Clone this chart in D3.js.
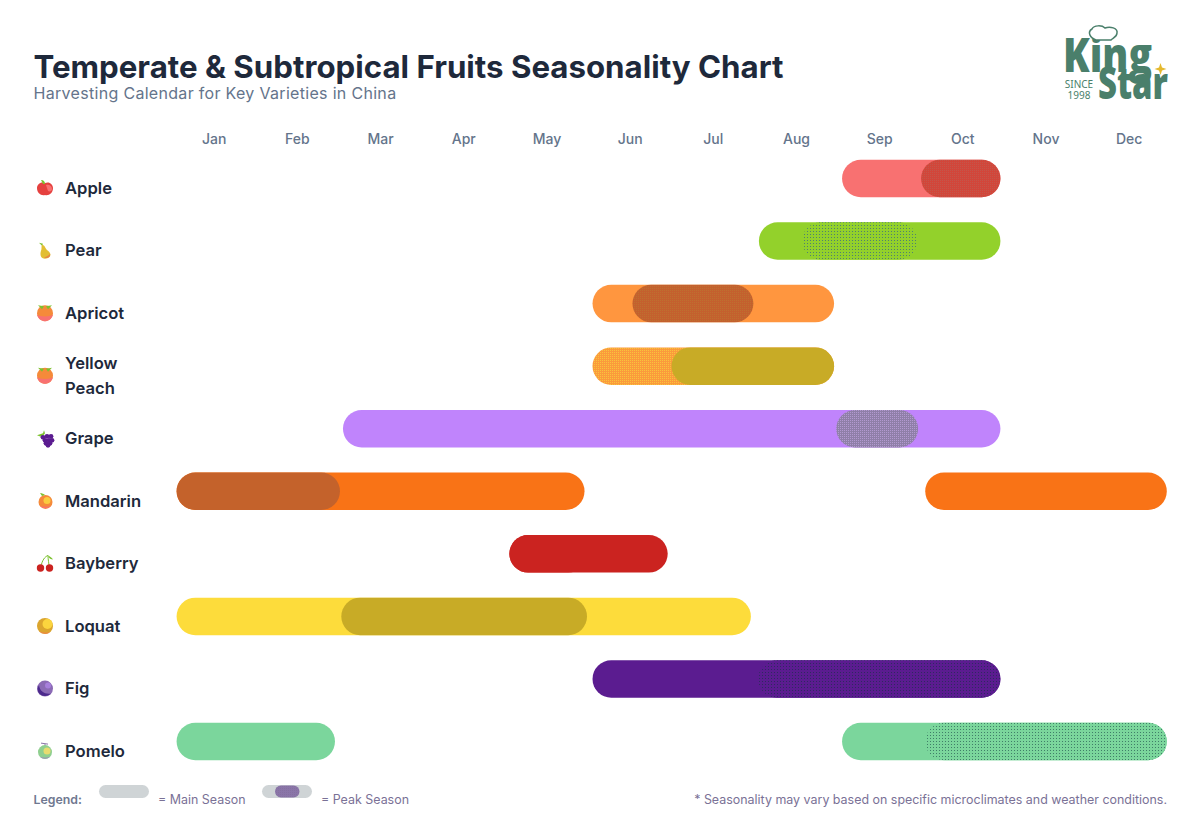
<!DOCTYPE html>
<html>
<head>
<meta charset="utf-8">
<title>Temperate & Subtropical Fruits Seasonality Chart</title>
<script src="https://cdn.jsdelivr.net/npm/d3@7"></script>
<style>
  html, body { margin: 0; padding: 0; background: #fff; }
  svg { display: block; font-family: Inter, "Noto Sans", sans-serif; }
</style>
</head>
<body>
<svg id="chart" width="1200" height="833"></svg>
<script>
const months = ["Jan","Feb","Mar","Apr","May","Jun","Jul","Aug","Sep","Oct","Nov","Dec"];
const fruits = ["Apple","Pear","Apricot","Yellow Peach","Grape","Mandarin","Bayberry","Loquat","Fig","Pomelo"];

// month units, 0 = start of Jan, 12 = end of Dec
const mainSeasons = [
  [[8, 10]],
  [[7, 10]],
  [[5, 8]],
  [[5, 8]],
  [[2, 10]],
  [[0, 5], [9, 12]],
  [[4, 6]],
  [[0, 7]],
  [[5, 10]],
  [[0, 2], [8, 12]]
];
const peakSeasons = [
  [[8.95, 10]],
  [[7.52, 9]],
  [[5.48, 7.03]],
  [[5.95, 8]],
  [[7.93, 9.01]],
  [[0, 2.06]],
  [[4, 5.03]],
  [[1.98, 5.03]],
  [[6.99, 10]],
  [[9, 12]]
];

const mainColors = ["#F87171","#93D12B","#FF963F","url(#mainPeach)","#C084FC","#F97316","#CB2320","#FDDC3B","#5B1C90","#7BD69C"];
// base, dot colour and dot spacing of the dithered peak fill
const peakStyles = [
  ["#D2463A", "#C4564A", 2],
  ["#93D12B", "#4F8070", 3],
  ["#C4602E", "#BE7030", 2],
  ["#C8AB26", "#C8AB26", 2],
  ["#8F7FA8", "#B29AD0", 2],
  ["#C4622B", "#C4622B", 2],
  ["#CB2320", "#CB2320", 2],
  ["#C8AB26", "#C8AB26", 2],
  ["#5B1C90", "#2E2A60", 3],
  ["#7BD69C", "#3F7F68", 3]
];

const svg = d3.select("#chart");
const defs = svg.append("defs");

peakStyles.forEach((s, i) => {
  const p = defs.append("pattern")
    .attr("id", "peak" + i)
    .attr("patternUnits", "userSpaceOnUse")
    .attr("width", s[2]).attr("height", s[2]);
  p.append("rect").attr("width", s[2]).attr("height", s[2]).attr("fill", s[0]);
  p.append("rect").attr("width", 1).attr("height", 1).attr("fill", s[1]);
});
// yellow peach main season is yellow and orange dots
const pm = defs.append("pattern").attr("id", "mainPeach")
  .attr("patternUnits", "userSpaceOnUse").attr("width", 2).attr("height", 2);
pm.append("rect").attr("width", 2).attr("height", 2).attr("fill", "#FB9A3C");
pm.append("rect").attr("width", 1).attr("height", 1).attr("fill", "#F8C43C");
const pl = defs.append("pattern").attr("id", "legendPeak")
  .attr("patternUnits", "userSpaceOnUse").attr("width", 2).attr("height", 2);
pl.append("rect").attr("width", 2).attr("height", 2).attr("fill", "#8A75A8");
pl.append("rect").attr("width", 1).attr("height", 1).attr("fill", "#8570A0");

// Scales
const xBand = d3.scaleBand().domain(months).range([172.6, 1170.8]);
const x = d3.scaleLinear().domain([0, 12]).range([172.6, 1170.8]);
const y = d3.scaleBand().domain(fruits).range([147.2, 772.8]).paddingInner(0.4).paddingOuter(0.2);

const barInset = 4;
const barH = 37.5;
const rowY = f => y(f) + y.bandwidth() / 2 - barH / 2;

// Title
svg.append("text").attr("x", 33.5).attr("y", 78)
  .attr("font-size", 31.25).attr("font-weight", 700).attr("fill", "#1E293B")
  .text("Temperate & Subtropical Fruits Seasonality Chart");
svg.append("text").attr("x", 33.5).attr("y", 98.5)
  .attr("font-size", 16).attr("fill", "#64748B").attr("letter-spacing", 0.31)
  .text("Harvesting Calendar for Key Varieties in China");

// Month axis
const axis = svg.append("g").attr("transform", "translate(0,144)")
  .call(d3.axisTop(xBand).tickSize(0).tickPadding(0));
axis.select(".domain").remove();
axis.selectAll("text")
  .attr("font-family", "Inter").attr("font-size", 14).attr("font-weight", 500)
  .attr("fill", "#64748B");

// Bars
const rows = svg.selectAll(".row").data(fruits).enter().append("g").attr("class", "row");

rows.each(function (f, i) {
  const row = d3.select(this);
  row.selectAll(".main").data(mainSeasons[i]).enter().append("rect")
    .attr("class", "main")
    .attr("x", d => x(d[0]) + barInset)
    .attr("width", d => x(d[1]) - x(d[0]) - barInset * 2)
    .attr("y", rowY(f)).attr("height", barH)
    .attr("rx", barH / 2)
    .attr("fill", mainColors[i]);
  row.selectAll(".peak").data(peakSeasons[i]).enter().append("rect")
    .attr("class", "peak")
    .attr("x", d => x(d[0]) + barInset)
    .attr("width", d => x(d[1]) - x(d[0]) - barInset * 2)
    .attr("y", rowY(f)).attr("height", barH)
    .attr("rx", barH / 2)
    .attr("fill", `url(#peak${i})`);
});

// Row labels
const labelShift = 9.6;
rows.each(function (f) {
  const cy = y(f) + y.bandwidth() / 2 + labelShift;
  const t = d3.select(this).append("text")
    .attr("x", 65).attr("font-size", 16.6).attr("font-weight", 600).attr("fill", "#1E293B");
  if (f === "Yellow Peach") {
    t.append("tspan").attr("x", 65).attr("y", cy - 12.5).attr("dy", "0.35em").text("Yellow");
    t.append("tspan").attr("x", 65).attr("y", cy + 12.5).attr("dy", "0.35em").text("Peach");
  } else {
    t.attr("y", cy).attr("dy", "0.35em").text(f);
  }
});

// Small hand drawn fruit icons, centred on 0,0 in a 16px box
const icons = {
  Apple(g) {
    g.append("path").attr("d", "M0,-5 C4,-7 8,-4 8,0 C8,5 4,8 0,7 C-4,8 -8,5 -8,0 C-8,-4 -4,-7 0,-5 Z").attr("fill", "#E5413F");
    g.append("path").attr("d", "M1,-3 C4,-4 7,-2 7,1 C7,3 5,4 3,3 Z").attr("fill", "#F77070");
    g.append("path").attr("d", "M-4,-8 C-1,-8 0,-6 0,-4 L-2,-4 Z").attr("fill", "#7CC22E");
  },
  Pear(g) {
    g.append("path").attr("d", "M-6,-8 L-2,-7 L-3,-5 Z").attr("fill", "#7CC22E");
    g.append("path").attr("d", "M-3,-6 C0,-6 0,-2 3,0 C7,3 6,8 0,8 C-5,8 -5,3 -4,0 C-3,-2 -4,-4 -3,-6 Z").attr("fill", "#E2BE32");
    g.append("path").attr("d", "M-1,7 C3,8 6,6 5,3 C4,5 1,6 -1,7 Z").attr("fill", "#E5824A");
  },
  Apricot(g) { peach(g); },
  "Yellow Peach"(g) { peach(g); },
  Grape(g) {
    g.append("path").attr("d", "M-8,-3 L-2,-5 L-1,-8 L0,-5 L-3,-1 Z").attr("fill", "#7CC22E");
    [[-2,-1],[2,-2],[6,-2],[0,2],[4,2],[7,2],[1,5],[5,5],[3,7]].forEach(p => {
      g.append("circle").attr("cx", p[0]).attr("cy", p[1]).attr("r", 2.4).attr("fill", "#5B1C90");
    });
  },
  Mandarin(g) {
    g.append("circle").attr("cx", 0.5).attr("cy", 1).attr("r", 7).attr("fill", "#F58A3A");
    g.append("circle").attr("cx", 2).attr("cy", -0.5).attr("r", 3.5).attr("fill", "#FACC3E");
    g.append("path").attr("d", "M-5,5 C-2,8 3,8 6,5 C3,6 -2,6 -5,5 Z").attr("fill", "#F87171");
    g.append("path").attr("d", "M-5,-8 C-3,-8 -1,-7 0,-6 L-3,-5 Z").attr("fill", "#7CC22E");
  },
  Bayberry(g) {
    g.append("path").attr("d", "M-4,3 C-3,-3 0,-7 3,-8 C3,-4 4,0 4,3").attr("fill", "none").attr("stroke", "#7CC22E").attr("stroke-width", 1);
    g.append("path").attr("d", "M3,-8 C5,-7 7,-6 8,-4 C6,-4 4,-5 3,-8 Z").attr("fill", "#7CC22E");
    g.append("circle").attr("cx", -4.5).attr("cy", 4.5).attr("r", 3.7).attr("fill", "#CB2320");
    g.append("circle").attr("cx", 4.5).attr("cy", 4.5).attr("r", 3.7).attr("fill", "#CB2320");
  },
  Loquat(g) {
    g.append("circle").attr("r", 8).attr("fill", "#DBA52E");
    g.append("circle").attr("cx", 2.5).attr("cy", -2).attr("r", 5).attr("fill", "#FBD53E");
    g.append("path").attr("d", "M-6,5 C-3,8 2,9 5,6 C2,7 -3,7 -6,5 Z").attr("fill", "#F0804A");
  },
  Fig(g) {
    g.append("circle").attr("r", 8).attr("fill", "#8B6AB5");
    g.append("path").attr("d", "M-6,-3 C-5,3 0,6 6,5 C2,9 -5,8 -7,3 C-8,1 -7,-2 -6,-3 Z").attr("fill", "#4C2A8C");
    g.append("circle").attr("cx", 3).attr("cy", -3).attr("r", 3).attr("fill", "#A77FDC");
  },
  Pomelo(g) {
    g.append("path").attr("d", "M-4,-8 L3,-7 M0,-7 L0,-4").attr("stroke", "#8A75A8").attr("stroke-width", 1).attr("fill", "none");
    g.append("circle").attr("cy", 1).attr("r", 7).attr("fill", "#8FCF8F");
    g.append("circle").attr("cx", 2).attr("cy", 0).attr("r", 3.5).attr("fill", "#E8DC70");
    g.append("path").attr("d", "M-5,6 C-2,8 2,8 5,6 C2,7 -2,7 -5,6 Z").attr("fill", "#9A80C0");
  }
};
function peach(g) {
  g.append("circle").attr("cy", 0).attr("r", 8).attr("fill", "#F58A3A");
  g.append("path").attr("d", "M-8,1 C-6,4 6,4 8,1 C7,6 3,8 0,8 C-3,8 -7,6 -8,1 Z").attr("fill", "#F87171");
  g.append("path").attr("d", "M-7,-8 L-1,-7 L-3,-4 Z M7,-8 L1,-7 L3,-4 Z").attr("fill", "#7CC22E");
}
rows.each(function (f) {
  const g = d3.select(this).append("g")
    .attr("transform", `translate(45,${y(f) + y.bandwidth() / 2 + labelShift})`);
  icons[f](g);
});

// Logo
const green = "#4A7F6B";
const logo = svg.append("g").attr("fill", green).attr("font-family", "Open Sans").attr("font-weight", 800);
logo.append("text").attr("x", 1063).attr("y", 72).attr("font-size", 48)
  .attr("textLength", 89).attr("lengthAdjust", "spacingAndGlyphs").text("King");
logo.append("text").attr("x", 1098).attr("y", 99).attr("font-size", 45)
  .attr("textLength", 70).attr("lengthAdjust", "spacingAndGlyphs").text("Star");
logo.append("text").attr("x", 1079).attr("y", 88).attr("text-anchor", "middle")
  .attr("font-size", 10).attr("font-weight", 400).attr("font-family", "Noto Sans").text("SINCE");
logo.append("text").attr("x", 1079).attr("y", 99).attr("text-anchor", "middle")
  .attr("font-size", 10).attr("font-weight", 400).attr("font-family", "Noto Sans").text("1998");
svg.append("path")
  .attr("d", "M1096,40 C1090,38 1087,32 1092,29 C1094,25 1102,25 1105,28 C1110,26 1118,28 1117,33 C1117,37 1113,38 1111,40 Z")
  .attr("fill", "#fff").attr("stroke", green).attr("stroke-width", 1.5);
svg.append("path")
  .attr("d", "M1160.5,63 L1162,67.5 L1166.5,69 L1162,70.5 L1160.5,75 L1159,70.5 L1154.5,69 L1159,67.5 Z")
  .attr("fill", "#E5B92E");

// Legend and footnote
const legendText = "#7A7196";
svg.append("text").attr("x", 33.5).attr("y", 804).attr("font-size", 12.3).attr("font-weight", 600)
  .attr("fill", "#6F7890").text("Legend:");
svg.append("rect").attr("x", 99).attr("y", 785).attr("width", 50).attr("height", 13).attr("rx", 6.5).attr("fill", "#CFD4D6");
svg.append("text").attr("x", 158).attr("y", 804).attr("font-size", 12.45).attr("fill", legendText).text("= Main Season");
svg.append("rect").attr("x", 262).attr("y", 785).attr("width", 50).attr("height", 13).attr("rx", 6.5).attr("fill", "#CFD4D6");
svg.append("rect").attr("x", 275).attr("y", 785.5).attr("width", 24.5).attr("height", 12).attr("rx", 6).attr("fill", "url(#legendPeak)");
svg.append("text").attr("x", 321).attr("y", 804).attr("font-size", 12.45).attr("fill", legendText).text("= Peak Season");
svg.append("text").attr("x", 1167).attr("y", 804).attr("text-anchor", "end").attr("font-size", 12.45)
  .attr("fill", legendText).text("* Seasonality may vary based on specific microclimates and weather conditions.");
</script>
</body>
</html>
